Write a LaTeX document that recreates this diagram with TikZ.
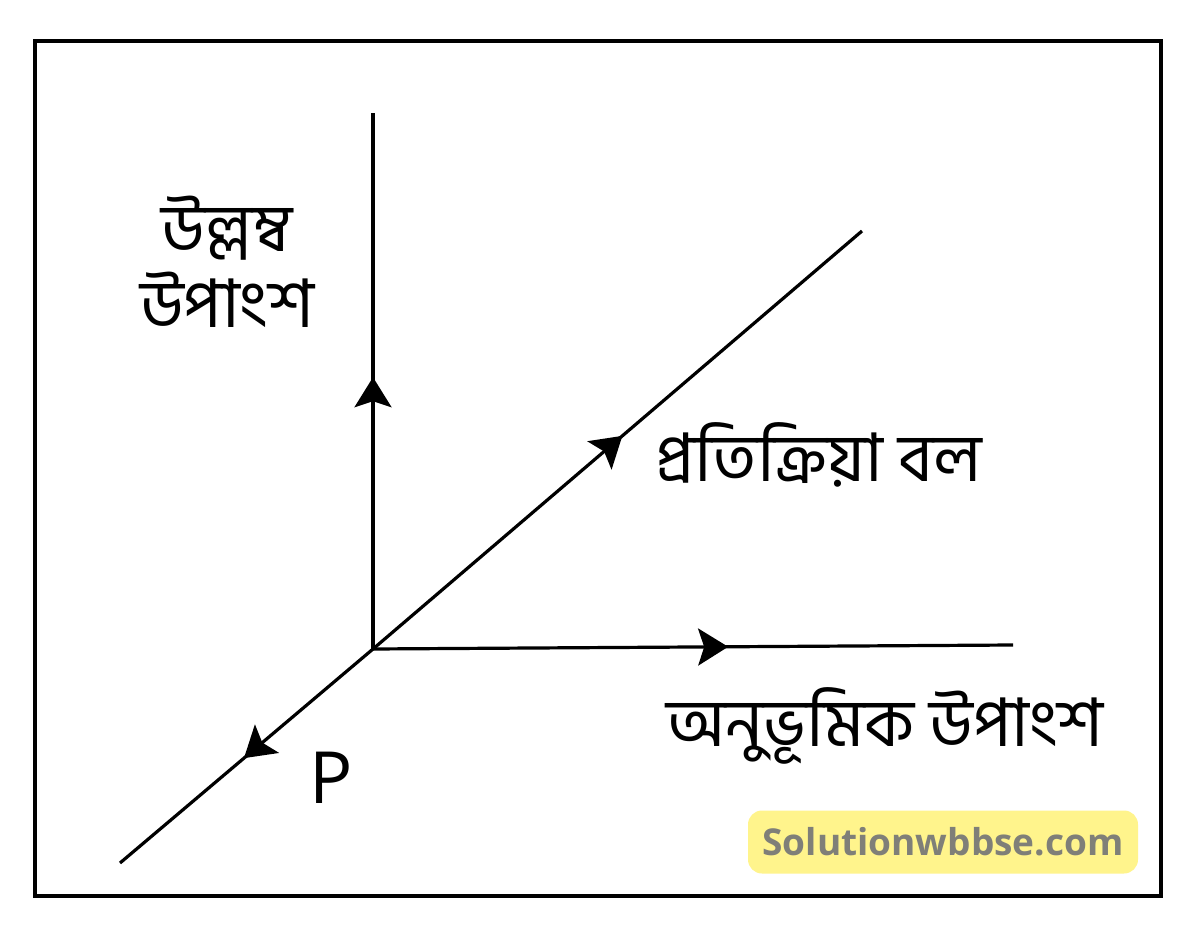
\documentclass[tikz,border=0pt]{standalone}
\usepackage{fontspec}
\usetikzlibrary{arrows.meta,decorations.markings}
\newfontfamily\bengfont[Script=Bengali]{Hind Siliguri}
\newfontfamily\wmfont{Open Sans}
\newfontfamily\pfont{Open Sans}
\definecolor{wmyellow}{HTML}{FFF48C}
\definecolor{wmgray}{HTML}{7F7F78}
\tikzset{
  axis/.style={line width=3.2pt,black},
  midarrow/.style={postaction={decorate},decoration={markings,
     mark=at position #1 with {\arrow{Stealth[length=30pt,width=37pt,inset=6pt]}}}},
  blabel/.style={font=\fontsize{67}{76}\selectfont\bengfont,inner sep=0pt,align=center},
}
\begin{document}
\begin{tikzpicture}[x=1pt,y=-1pt]
\useasboundingbox (0,0) rectangle (1200,928);
\fill[white] (0,0) rectangle (1200,928);
\draw[line width=3.5pt] (35,41) rectangle (1161,896);
\coordinate (O) at (373,649);
\coordinate (top) at (373,113);
\coordinate (right) at (1013,645);
\coordinate (ne) at (862,231);
\coordinate (sw) at (120,863);
\draw[axis,midarrow=0.507] (O) -- (top);
\draw[axis,midarrow=0.555] (O) -- (right);
\draw[axis,midarrow=0.51] (O) -- (ne);
\draw[axis,midarrow=0.51] (O) -- (sw);
\node[blabel] (vert) at (227,262) {উল্লম্ব\\উপাংশ};
\node[blabel,anchor=west] (react) at (655,455) {প্রতিক্রিয়া বল};
\node[blabel,anchor=west] (horiz) at (666,726) {অনুভূমিক উপাংশ};
\node[font=\fontsize{72}{74}\selectfont\pfont,inner sep=0pt] (P) at (331,778) {P};
\node[fill=wmyellow,rounded corners=14pt,minimum width=390pt,minimum height=63pt,inner sep=0pt,
      font=\fontsize{37}{40}\selectfont\wmfont\bfseries,text=wmgray] (wm) at (943,842) {Solutionwbbse.com};
\end{tikzpicture}
\end{document}
